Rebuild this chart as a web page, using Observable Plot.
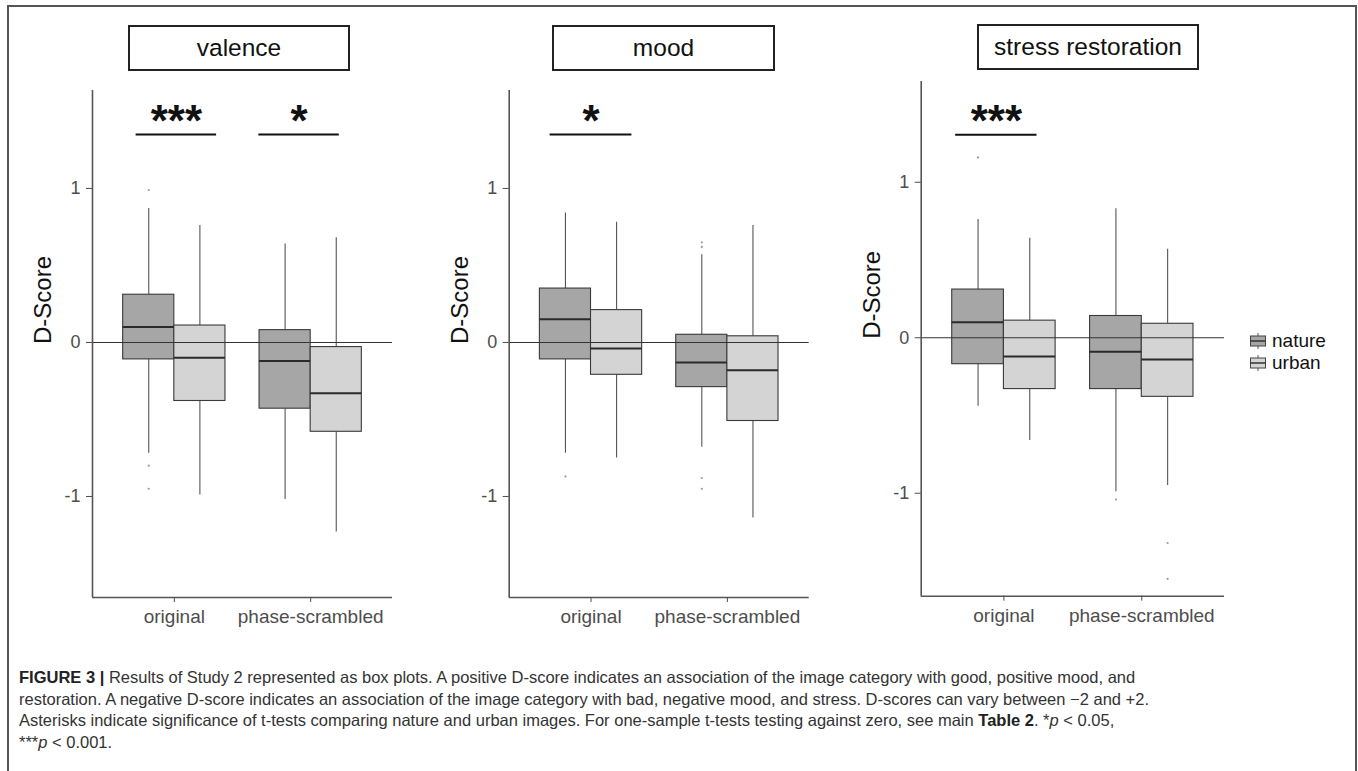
<!DOCTYPE html>
<html><head><meta charset="utf-8">
<script src="https://cdn.jsdelivr.net/npm/d3@7"></script>
<script src="https://cdn.jsdelivr.net/npm/@observablehq/plot@0.6"></script>
<style>
html,body{margin:0;padding:0;background:#fff;}
body{width:1358px;height:771px;position:relative;overflow:hidden;font-family:"Liberation Sans",Arial,sans-serif;}
#frame{position:absolute;left:7px;top:5px;width:1350px;height:800px;border:2px solid #555;box-sizing:border-box;}
.panel{position:absolute;top:0;}
.strip{position:absolute;height:46px;border:2px solid #222;box-sizing:border-box;display:flex;align-items:center;justify-content:center;font-size:24.5px;color:#111;background:#fff;}
#legend{position:absolute;left:1249px;top:330px;font-size:19px;color:#111;}
#legend .row{display:flex;align-items:center;height:22px;}
#legend svg{margin-right:5px;}
#caption{position:absolute;left:19px;top:667px;font-size:16.5px;line-height:21.7px;color:#333;white-space:nowrap;}
#caption b{color:#222;}
</style></head><body>
<div id="frame"></div>
<div id="panels"></div>
<div id="legend"></div>
<div id="caption">
<div><b>FIGURE 3 |</b> Results of Study 2 represented as box plots. A positive D-score indicates an association of the image category with good, positive mood, and</div>
<div>restoration. A negative D-score indicates an association of the image category with bad, negative mood, and stress. D-scores can vary between &minus;2 and +2.</div>
<div>Asterisks indicate significance of t-tests comparing nature and urban images. For one-sample t-tests testing against zero, see main <b>Table 2</b>. *<i>p</i> &lt; 0.05,</div>
<div>***<i>p</i> &lt; 0.001.</div>
</div>
<script>
// ---------- data ----------
const panels = ["valence", "mood", "stress restoration"];
const categories = ["original", "phase-scrambled"];
const groups = ["nature", "urban"];
const groupFills = ["#a6a6a6", "#d4d4d4"];
const yLabel = "D-Score";
const yTicks = [-1, 0, 1];

// box statistics, order: original-nature, original-urban, phase-nature, phase-urban
const valenceLower  = [-0.72, -0.99, -1.02, -1.23];
const valenceQ1     = [-0.11, -0.38, -0.43, -0.58];
const valenceMedian = [ 0.10, -0.10, -0.12, -0.33];
const valenceQ3     = [ 0.31,  0.11,  0.08, -0.03];
const valenceUpper  = [ 0.87,  0.76,  0.64,  0.68];
const valenceOutliers = [[0.99, -0.80, -0.95], [], [], []];

const moodLower  = [-0.72, -0.75, -0.68, -1.14];
const moodQ1     = [-0.11, -0.21, -0.29, -0.51];
const moodMedian = [ 0.15, -0.04, -0.13, -0.18];
const moodQ3     = [ 0.35,  0.21,  0.05,  0.04];
const moodUpper  = [ 0.84,  0.78,  0.57,  0.76];
const moodOutliers = [[-0.87], [], [0.65, 0.62, -0.88, -0.95], []];

const stressLower  = [-0.44, -0.66, -0.99, -0.95];
const stressQ1     = [-0.17, -0.33, -0.33, -0.38];
const stressMedian = [ 0.10, -0.12, -0.09, -0.14];
const stressQ3     = [ 0.31,  0.11,  0.14,  0.09];
const stressUpper  = [ 0.76,  0.64,  0.83,  0.57];
const stressOutliers = [[1.16], [], [-1.04], [-1.32, -1.55]];

// significance brackets (x in category units, 1 = original, 2 = phase-scrambled)
const valenceSigLabel = ["***", "*"];
const valenceSigFrom  = [0.72, 1.62];
const valenceSigTo    = [1.31, 2.21];
const valenceSigY     = [1.35, 1.35];
const moodSigLabel = ["*"];
const moodSigFrom  = [0.70];
const moodSigTo    = [1.30];
const moodSigY     = [1.35];
const stressSigLabel = ["***"];
const stressSigFrom  = [0.65];
const stressSigTo    = [1.24];
const stressSigY     = [1.305];

// y ranges of each panel
const valenceYDomain = [-1.656, 1.636];
const moodYDomain    = [-1.656, 1.636];
const stressYDomain  = [-1.662, 1.648];

// ---------- layout ----------
const xDomain = [0.4, 2.6];
const dodge = 0.75;
const layouts = [
  {left: 0,   width: 460, ml: 92,   mr: 68,    mt: 90, mb: 53,   strip: [128, 25, 222]},
  {left: 420, width: 430, ml: 88.7, mr: 41.3,  mt: 90, mb: 53,   strip: [552, 25, 223]},
  {left: 850, width: 508, ml: 70.7, mr: 134,   mt: 81, mb: 54.3, strip: [977, 24, 222]}
];

function buildBoxes(lower, q1, med, q3, upper, outl) {
  const boxes = [], outs = [];
  categories.forEach((c, ci) => groups.forEach((g, gi) => {
    const k = ci * groups.length + gi;
    const center = ci + 1;
    const half = dodge / 2;
    const row = {category: c, group: g,
      x1: center + (gi - 1) * half, x2: center + gi * half, xm: center + (gi - 0.5) * half,
      lower: lower[k], q1: q1[k], median: med[k], q3: q3[k], upper: upper[k]};
    boxes.push(row);
    outl[k].forEach(v => outs.push({xm: row.xm, value: v, group: g}));
  }));
  return {boxes, outs};
}
function buildSig(labels, from, to, y) {
  return labels.map((l, i) => ({label: l, from: from[i], to: to[i], y: y[i]}));
}

const panelData = [
  {...buildBoxes(valenceLower, valenceQ1, valenceMedian, valenceQ3, valenceUpper, valenceOutliers),
   sig: buildSig(valenceSigLabel, valenceSigFrom, valenceSigTo, valenceSigY), yDomain: valenceYDomain},
  {...buildBoxes(moodLower, moodQ1, moodMedian, moodQ3, moodUpper, moodOutliers),
   sig: buildSig(moodSigLabel, moodSigFrom, moodSigTo, moodSigY), yDomain: moodYDomain},
  {...buildBoxes(stressLower, stressQ1, stressMedian, stressQ3, stressUpper, stressOutliers),
   sig: buildSig(stressSigLabel, stressSigFrom, stressSigTo, stressSigY), yDomain: stressYDomain}
];

const holder = document.getElementById("panels");
panelData.forEach((p, i) => {
  const L = layouts[i];
  const chart = Plot.plot({
    width: L.width, height: 650,
    marginLeft: L.ml, marginRight: L.mr, marginTop: L.mt, marginBottom: L.mb,
    x: {domain: xDomain},
    y: {domain: p.yDomain},
    color: {domain: groups, range: groupFills},
    style: {fontFamily: "'Liberation Sans', Arial, sans-serif", fontSize: "18px", background: "transparent", overflow: "visible", color: "#111"},
    marks: [
      Plot.ruleX(p.boxes, {x: "xm", y1: "q3", y2: "upper", stroke: "#555", strokeWidth: 1.1}),
      Plot.ruleX(p.boxes, {x: "xm", y1: "q1", y2: "lower", stroke: "#555", strokeWidth: 1.1}),
      Plot.dot(p.outs, {x: "xm", y: "value", r: 1.1, fill: "#9a9a9a", stroke: null}),
      Plot.rect(p.boxes, {x1: "x1", x2: "x2", y1: "q1", y2: "q3", fill: "group", stroke: "#3a3a3a", strokeWidth: 1.1}),
      Plot.ruleY(p.boxes, {x1: "x1", x2: "x2", y: "median", stroke: "#2a2a2a", strokeWidth: 2}),
      Plot.ruleY([0], {stroke: "#333", strokeWidth: 1.1}),
      Plot.ruleX([xDomain[0]], {stroke: "#555", strokeWidth: 1.6}),
      Plot.ruleY([p.yDomain[0]], {stroke: "#555", strokeWidth: 1.6}),
      Plot.axisY({ticks: yTicks, tickFormat: d => String(d), tickSize: 6, tickPadding: 6, fontSize: 18, color: "#4d4d4d", label: null}),
      Plot.axisX({ticks: [1, 2], tickFormat: d => categories[d - 1], tickSize: 5, tickPadding: 7, fontSize: 19, color: "#4d4d4d", label: null}),
      Plot.ruleY(p.sig, {x1: "from", x2: "to", y: "y", stroke: "#111", strokeWidth: 2}),
      Plot.text(p.sig, {x: d => (d.from + d.to) / 2, y: "y", text: "label", fontSize: 44, fontWeight: "bold", dy: -13, fill: "#111"}),
      Plot.text([yLabel], {text: d => d, frameAnchor: "left", rotate: -90, dx: -49, fontSize: 24, fill: "#111"})
    ]
  });
  const wrap = document.createElement("div");
  wrap.className = "panel";
  wrap.style.left = L.left + "px";
  wrap.appendChild(chart);
  holder.appendChild(wrap);
  const strip = document.createElement("div");
  strip.className = "strip";
  strip.style.left = L.strip[0] + "px";
  strip.style.top = L.strip[1] + "px";
  strip.style.width = L.strip[2] + "px";
  strip.textContent = panels[i];
  holder.appendChild(strip);
});

// legend
const legend = document.getElementById("legend");
groups.forEach((g, i) => {
  const row = document.createElement("div");
  row.className = "row";
  row.innerHTML = `<svg width="18" height="20"><line x1="9" x2="9" y1="2" y2="18" stroke="#555"/><rect x="1.5" y="5" width="15" height="10" fill="${groupFills[i]}" stroke="#444"/><line x1="1.5" x2="16.5" y1="10" y2="10" stroke="#333" stroke-width="1.5"/></svg><span>${g}</span>`;
  legend.appendChild(row);
});
</script>
</body></html>
